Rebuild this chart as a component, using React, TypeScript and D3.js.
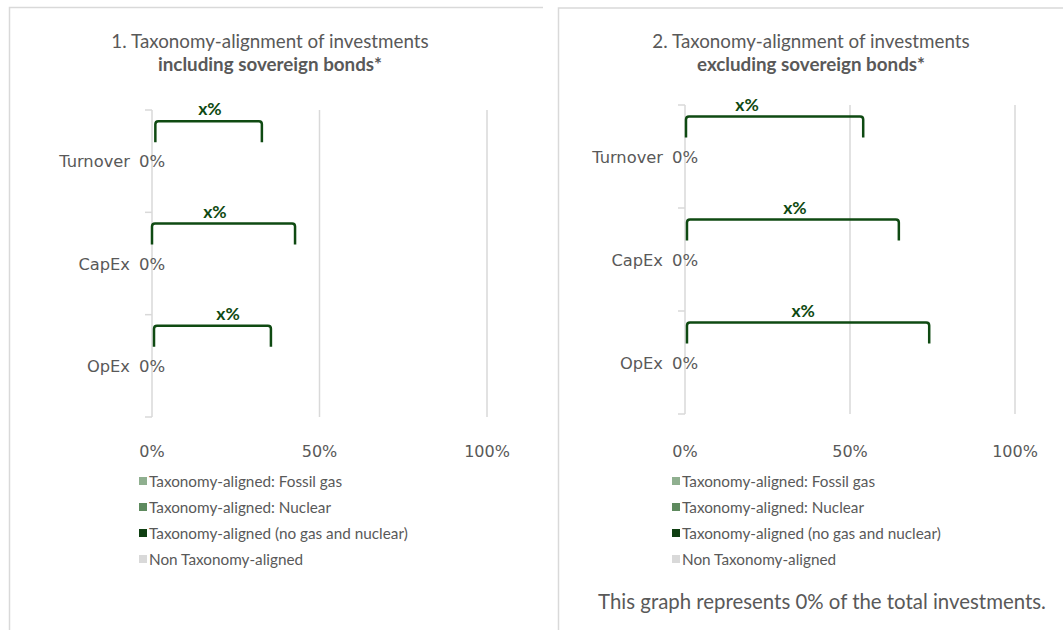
import React from "react";
import * as d3 from "d3";

const categories = ["Turnover", "CapEx", "OpEx"];
const seriesNames = [
  "Taxonomy-aligned: Fossil gas",
  "Taxonomy-aligned: Nuclear",
  "Taxonomy-aligned (no gas and nuclear)",
  "Non Taxonomy-aligned",
];
const seriesColors = ["#8faf8f", "#5e8a5e", "#0f3f12", "#d9d9d9"];
const xTicks = [0, 0.5, 1];

// chart 1 (including sovereign bonds)
const incFossil = [0, 0, 0];
const incNuclear = [0, 0, 0];
const incAligned = [0, 0, 0];
const incNon = [0, 0, 0];
const incBracketStart = [0.01, 0.0, 0.006];
const incBracketEnd = [0.328, 0.427, 0.355];
const incBracketLabel = [0.173, 0.188, 0.227];

// chart 2 (excluding sovereign bonds)
const excFossil = [0, 0, 0];
const excNuclear = [0, 0, 0];
const excAligned = [0, 0, 0];
const excNon = [0, 0, 0];
const excBracketStart = [0.003, 0.006, 0.006];
const excBracketEnd = [0.54, 0.648, 0.74];
const excBracketLabel = [0.188, 0.333, 0.358];

const titles1 = ["1. Taxonomy-alignment of investments", "including sovereign bonds*"];
const titles2 = ["2. Taxonomy-alignment of investments", "excluding sovereign bonds*"];
const footnote = "This graph represents 0% of the total investments.";

const FONT = "Lato, 'Open Sans', sans-serif";
const AXFONT = "'DejaVu Sans', sans-serif";
const GRAY = "#595959";
const GRID = "#d9d9d9";
const GREEN = "#0f4a12";

type PanelProps = {
  x0: number;
  x1: number;
  yTop: number;
  yBot: number;
  titleX: number;
  titles: string[];
  legendX: number;
  series: number[][];
  bStart: number[];
  bEnd: number[];
  bLabel: number[];
  note?: string;
  noteX?: number;
};

function Panel(p: PanelProps) {
  const x = d3.scaleLinear().domain([0, 1]).range([p.x0, p.x1]);
  const y = d3.scaleBand<string>().domain(categories).range([p.yTop, p.yBot]).paddingInner(0.5).paddingOuter(0.25);
  const bandCenter = (c: string) => (y(c) as number) + y.bandwidth() / 2;
  const tickYs = d3.range(categories.length + 1).map((i) => p.yTop + i * ((p.yBot - p.yTop) / categories.length));

  const stackData = categories.map((c, i) => {
    const o: any = { cat: c };
    seriesNames.forEach((s, j) => (o[s] = p.series[j][i]));
    return o;
  });
  const stacked = d3.stack<any>().keys(seriesNames)(stackData);

  return (
    <g>
      <text x={p.titleX} y={48} textAnchor="middle" fontFamily={FONT} fontSize={18.8} fill={GRAY}>
        {p.titles[0]}
      </text>
      <text x={p.titleX} y={71} textAnchor="middle" fontFamily={FONT} fontSize={18.8} fontWeight="bold" fill={GRAY}>
        {p.titles[1]}
      </text>
      {xTicks.slice(1).map((t) => (
        <line key={t} x1={x(t)} x2={x(t)} y1={p.yTop} y2={p.yBot} stroke={GRID} strokeWidth={1.5} />
      ))}
      <line x1={x(0)} x2={x(0)} y1={p.yTop} y2={p.yBot} stroke={GRID} strokeWidth={1.5} />
      {tickYs.map((ty, i) => (
        <line key={i} x1={x(0) - 7} x2={x(0)} y1={ty} y2={ty} stroke={GRID} strokeWidth={1.5} />
      ))}
      {stacked.map((s, j) => (
        <g key={j} fill={seriesColors[j]}>
          {s.map((d, i) => (
            <rect key={i} x={x(d[0])} width={x(d[1]) - x(d[0])} y={y(categories[i])} height={y.bandwidth()} />
          ))}
        </g>
      ))}
      {categories.map((c) => (
        <text key={c} x={x(0) - 22} y={bandCenter(c) + 6} textAnchor="end" fontFamily={AXFONT} fontSize={16.3} fill={GRAY}>
          {c}
        </text>
      ))}
      {categories.map((c, i) => (
        <text key={c} x={x(p.series[2][i])} y={bandCenter(c) + 6} textAnchor="middle" fontFamily={AXFONT} fontSize={16.5} fill={GRAY}>
          {d3.format(".0%")(p.series[2][i])}
        </text>
      ))}
      {categories.map((c, i) => {
        const top = bandCenter(c) - 40;
        const bot = bandCenter(c) - 19;
        const xa = x(p.bStart[i]);
        const xb = x(p.bEnd[i]);
        const r = 3;
        const d = `M${xa},${bot} L${xa},${top + r} Q${xa},${top} ${xa + r},${top} L${xb - r},${top} Q${xb},${top} ${xb},${top + r} L${xb},${bot}`;
        return (
          <g key={c}>
            <path d={d} fill="none" stroke={GREEN} strokeWidth={2.5} />
            <text x={x(p.bLabel[i])} y={top - 6} textAnchor="middle" fontFamily={FONT} fontSize={17.5} fontWeight="bold" fill={GREEN}>
              x%
            </text>
          </g>
        );
      })}
      {xTicks.map((t) => (
        <text key={t} x={x(t)} y={457} textAnchor="middle" fontFamily={AXFONT} fontSize={16} fill={GRAY}>
          {d3.format(".0%")(t)}
        </text>
      ))}
      {seriesNames.map((s, j) => (
        <g key={s}>
          <rect x={p.legendX} y={477 + j * 26} width={8} height={8} fill={seriesColors[j]} />
          <text x={p.legendX + 10} y={487 + j * 26} fontFamily={FONT} fontSize={15.3} fill={GRAY}>
            {s}
          </text>
        </g>
      ))}
      {p.note && (
        <text x={p.noteX} y={609} textAnchor="middle" fontFamily={FONT} fontSize={20.4} fill={GRAY}>
          {p.note}
        </text>
      )}
    </g>
  );
}

export default function App() {
  return (
    <svg width={1063} height={630} style={{ position: "absolute", left: 0, top: 0, background: "#fff" }}>
      <rect x={0} y={0} width={1063} height={630} fill="#fff" />
      <path d="M9.5,630 L9.5,7.5 L543,7.5" fill="none" stroke={GRID} strokeWidth={1.5} />
      <path d="M558.5,630 L558.5,8 L1063,8" fill="none" stroke={GRID} strokeWidth={1.5} />
      <Panel
        x0={152}
        x1={487}
        yTop={110}
        yBot={417}
        titleX={270}
        titles={titles1}
        legendX={139}
        series={[incFossil, incNuclear, incAligned, incNon]}
        bStart={incBracketStart}
        bEnd={incBracketEnd}
        bLabel={incBracketLabel}
      />
      <Panel
        x0={685}
        x1={1015}
        yTop={105}
        yBot={414}
        titleX={811}
        titles={titles2}
        legendX={672}
        series={[excFossil, excNuclear, excAligned, excNon]}
        bStart={excBracketStart}
        bEnd={excBracketEnd}
        bLabel={excBracketLabel}
        note={footnote}
        noteX={822}
      />
    </svg>
  );
}
